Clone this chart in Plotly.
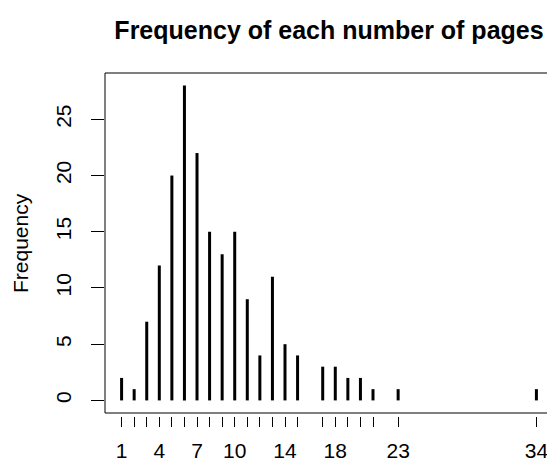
import plotly.graph_objects as go

pages = [1, 2, 3, 4, 5, 6, 7, 8, 9, 10, 11, 12, 13, 14, 15, 17, 18, 19, 20, 21, 23, 34]
freq = [2, 1, 7, 12, 20, 28, 22, 15, 13, 15, 9, 4, 11, 5, 4, 3, 3, 2, 2, 1, 1, 1]
x_labels = ["1", "", "", "4", "", "", "7", "", "", "10", "", "", "", "14", "", "", "18", "", "", "", "23", "34"]
y_ticks = [0, 5, 10, 15, 20, 25]

xs, ys = [], []
for p, f in zip(pages, freq):
    xs += [p, p, None]
    ys += [0, f, None]

fig = go.Figure()
fig.add_trace(go.Scatter(x=xs, y=ys, mode="lines",
                         line=dict(color="black", width=3),
                         hoverinfo="skip", showlegend=False))

OFF = 8  # default page body margin
W, H = 555 - OFF, 464 - OFF
ml, mr, mt, mb = 105 - OFF, 2, 73 - OFF, 464 - 416
ph = H - mt - mb
gap = 3 / ph

FONT = "Liberation Sans, Arial, Helvetica, sans-serif"
fig.update_layout(
    width=W, height=H,
    margin=dict(l=ml, r=mr, t=mt, b=mb, pad=0),
    paper_bgcolor="white", plot_bgcolor="white",
    font=dict(family=FONT, size=21, color="black"),
    title=dict(text="<b>Frequency of each number of pages</b>",
               x=0.5, xref="paper", xanchor="center",
               y=1 - (30 - OFF) / H, yref="container", yanchor="middle",
               font=dict(size=25, family=FONT, color="black")),
    xaxis=dict(range=[-0.32, 35.32], tickmode="array", tickvals=pages,
               ticktext=x_labels, ticks="outside", ticklen=10, tickwidth=1,
               tickcolor="black", showgrid=False, zeroline=False,
               showline=False, anchor="free", position=0,
               ticklabelstandoff=6),
    yaxis=dict(range=[-1.12, 29.12], domain=[gap, 1], tickmode="array",
               tickvals=y_ticks, ticktext=[str(v) for v in y_ticks],
               ticks="outside", ticklen=13, tickwidth=1, tickcolor="black",
               tickangle=-90, showgrid=False, zeroline=False, showline=False,
               ticklabelstandoff=12),
    annotations=[dict(text="Frequency", xref="paper", yref="paper",
                      x=0, y=gap + (1 - gap) / 2, xshift=-(105 - 20),
                      xanchor="center", yanchor="middle", textangle=-90,
                      showarrow=False, font=dict(size=21, family=FONT))],
    shapes=[dict(type="rect", xref="paper", yref="paper", x0=0, x1=1,
                 y0=gap, y1=1, line=dict(color="black", width=1))],
)

fig.write_html("out.html")
